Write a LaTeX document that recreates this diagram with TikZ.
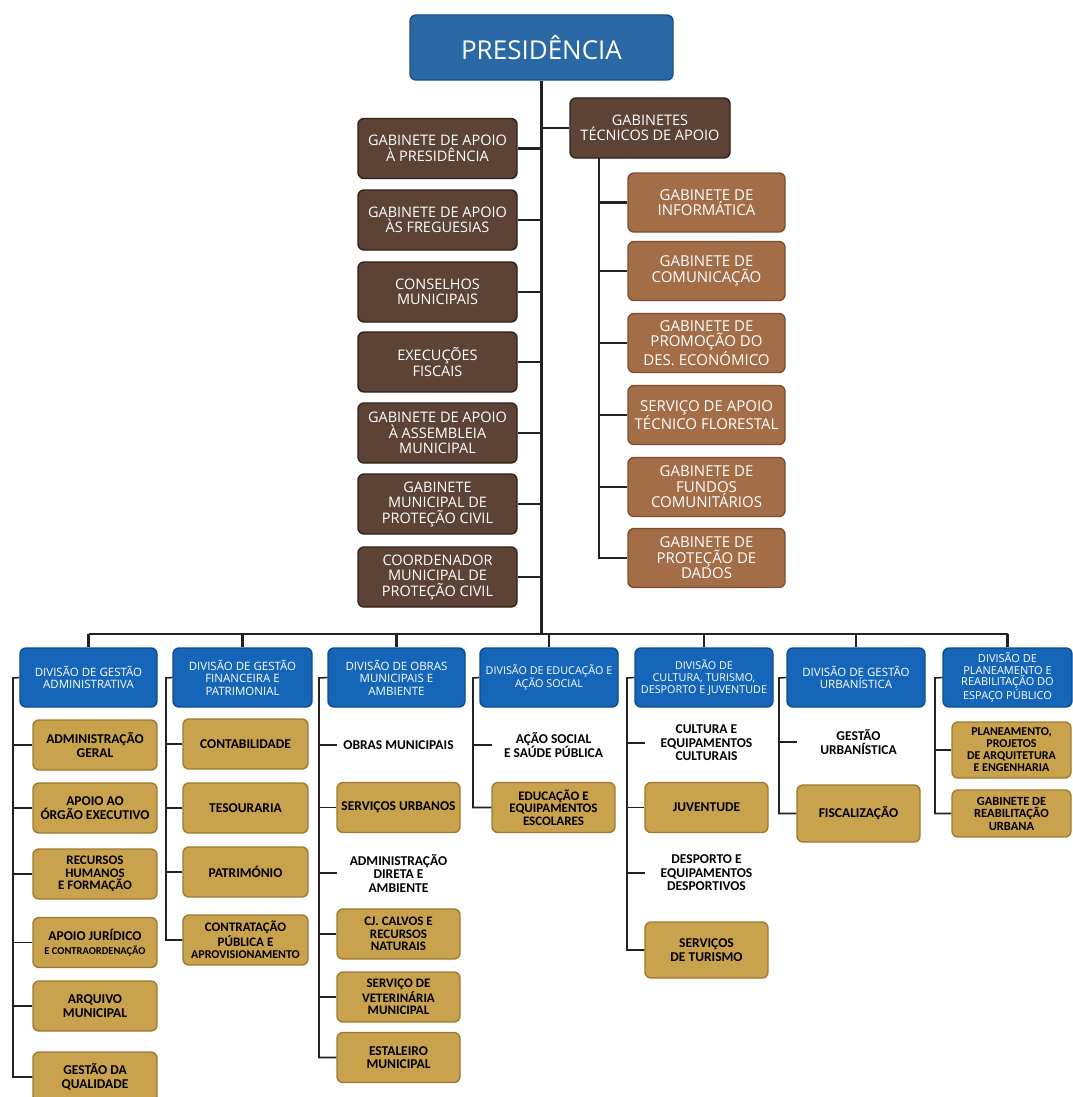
\documentclass[tikz,border=0pt]{standalone}
\usepackage{fontspec}
\setmainfont{Carlito}
\newfontfamily\wide{Open Sans}
\usetikzlibrary{calc}
\definecolor{presblue}{HTML}{2A68A6}
\definecolor{presedge}{HTML}{1B4E80}
\definecolor{divblue}{HTML}{1566B8}
\definecolor{divedge}{HTML}{0E4C8C}
\definecolor{darkbrown}{HTML}{5C4336}
\definecolor{darkbrownedge}{HTML}{2E211A}
\definecolor{midbrown}{HTML}{A26D47}
\definecolor{midbrownedge}{HTML}{7A4F31}
\definecolor{gold}{HTML}{C9A24E}
\definecolor{goldedge}{HTML}{9C7A30}
\definecolor{linecol}{HTML}{222222}
\tikzset{
  basebox/.style={rounded corners=6pt, align=center, inner sep=1pt, line width=1.4pt},
  presbox/.style={basebox, fill=presblue, draw=presedge, text=white, font=\wide\fontsize{26}{28}\selectfont},
  darkbox/.style={basebox, fill=darkbrown, draw=darkbrownedge, text=white, font=\wide\fontsize{14.5}{15.5}\selectfont, minimum width=159pt, minimum height=60pt},
  midbox/.style={basebox, fill=midbrown, draw=midbrownedge, text=white, font=\wide\fontsize{15}{15.5}\selectfont, minimum width=157pt, minimum height=59pt},
  divbox/.style={basebox, fill=divblue, draw=divedge, text=white, font=\wide\fontsize{11.5}{12.5}\selectfont, minimum height=59pt},
  goldbox/.style={basebox, fill=gold, draw=goldedge, text=black, font=\bfseries\fontsize{13.5}{13.5}\selectfont, minimum height=50pt},
  plainitem/.style={align=center, inner sep=1pt, text=black, font=\bfseries\fontsize{13.5}{13.5}\selectfont, minimum height=40pt},
  mainline/.style={draw=linecol, line width=2.2pt},
  subline/.style={draw=linecol, line width=1.6pt},
}
\begin{document}
\begin{tikzpicture}[x=1pt,y=-1pt]
\path[use as bounding box, fill=white] (0,0) rectangle (1072,1097);

% top
\node[presbox, minimum width=263pt, minimum height=65pt] (pres) at (541.5,47.5) {PRESIDÊNCIA};

% left column
\node[darkbox] (g1) at (437.5,148.5) {GABINETE DE APOIO\\À PRESIDÊNCIA};
\node[darkbox] (g2) at (437.5,220) {GABINETE DE APOIO\\ÀS FREGUESIAS};
\node[darkbox] (g3) at (437.5,292) {CONSELHOS\\MUNICIPAIS};
\node[darkbox] (g4) at (437.5,362) {EXECUÇÕES\\FISCAIS};
\node[darkbox] (g5) at (437.5,433) {GABINETE DE APOIO\\À ASSEMBLEIA\\MUNICIPAL};
\node[darkbox] (g6) at (437.5,504) {GABINETE\\MUNICIPAL DE\\PROTEÇÃO CIVIL};
\node[darkbox] (g7) at (437.5,577) {COORDENADOR\\MUNICIPAL DE\\PROTEÇÃO CIVIL};

% right column
\node[darkbox, minimum width=160pt] (gta) at (650,128) {GABINETES\\TÉCNICOS DE APOIO};
\node[midbox] (r1) at (706.5,202.5) {GABINETE DE\\INFORMÁTICA};
\node[midbox] (r2) at (706.5,271) {GABINETE DE\\COMUNICAÇÃO};
\node[midbox] (r3) at (706.5,343) {GABINETE DE\\PROMOÇÃO DO\\DES. ECONÓMICO};
\node[midbox] (r4) at (706.5,415) {SERVIÇO DE APOIO\\TÉCNICO FLORESTAL};
\node[midbox] (r5) at (706.5,487) {GABINETE DE\\FUNDOS\\COMUNITÁRIOS};
\node[midbox] (r6) at (706.5,558) {GABINETE DE\\PROTEÇÃO DE\\DADOS};

\coordinate (tl) at (599,158);
\coordinate (bus) at (543,634);

% main line and top connectors
\draw[mainline] (pres.south) -- (pres.south |- bus);
\foreach \n in {g1,g2,g3,g4,g5,g6,g7} {\draw[mainline] (\n.east) -- (\n.east -| pres.south);}
\draw[mainline] (gta.west) -- (gta.west -| pres.south);
\draw[mainline] (tl) |- (r6.west);
\foreach \n in {r1,r2,r3,r4,r5} {\draw[mainline] (\n.west) -- (\n.west -| tl);}

% division headers
\node[divbox, minimum width=137pt] (h1) at (88.5,677.5) {DIVISÃO DE GESTÃO\\ADMINISTRATIVA};
\node[divbox, minimum width=139pt] (h2) at (242.5,677.5) {DIVISÃO DE GESTÃO\\FINANCEIRA E\\PATRIMONIAL};
\node[divbox, minimum width=137pt] (h3) at (396.5,677.5) {DIVISÃO DE OBRAS\\MUNICIPAIS E\\AMBIENTE};
\node[divbox, minimum width=138pt, font=\wide\fontsize{10.8}{12}\selectfont] (h4) at (549,677.5) {DIVISÃO DE EDUCAÇÃO E\\AÇÃO SOCIAL};
\node[divbox, minimum width=138pt, font=\wide\fontsize{10.8}{12}\selectfont] (h5) at (704,677.5) {DIVISÃO DE\\CULTURA, TURISMO,\\DESPORTO E JUVENTUDE};
\node[divbox, minimum width=138pt] (h6) at (856,677.5) {DIVISÃO DE GESTÃO\\URBANÍSTICA};
\node[divbox, minimum width=129pt, font=\wide\fontsize{11}{11.8}\selectfont] (h7) at (1007.5,677.5) {DIVISÃO DE\\PLANEAMENTO E\\REABILITAÇÃO DO\\ESPAÇO PÚBLICO};

% bus
\draw[mainline] (h1.north |- bus) -- (h7.north |- bus);
\foreach \n in {h1,h2,h3,h4,h5,h6,h7} {\draw[mainline] (\n.north |- bus) -- (\n.north);}

% column 1
\node[goldbox, minimum width=124pt] (a1) at (95,745) {ADMINISTRAÇÃO\\GERAL};
\node[goldbox, minimum width=124pt] (a2) at (95,808) {APOIO AO\\ÓRGÃO EXECUTIVO};
\node[goldbox, minimum width=124pt, font=\bfseries\fontsize{13}{12.5}\selectfont] (a3) at (95,874) {RECURSOS\\HUMANOS\\E FORMAÇÃO};
\node[goldbox, minimum width=124pt] (a4) at (95,942.5) {APOIO JURÍDICO\\{\fontsize{10.5}{12}\selectfont E CONTRAORDENAÇÃO}};
\node[goldbox, minimum width=124pt] (a5) at (95,1006) {ARQUIVO\\MUNICIPAL};
\node[goldbox, minimum width=124pt] (a6) at (95,1077) {GESTÃO DA\\QUALIDADE};
\coordinate (c1) at (13,678);
\draw[subline] (h1.west) -- (c1) |- (a6.west);
\foreach \n in {a1,a2,a3,a4,a5} {\draw[subline] (\n.west) -- (\n.west -| c1);}

% column 2
\node[goldbox, minimum width=125pt] (b1) at (245.5,744) {CONTABILIDADE};
\node[goldbox, minimum width=125pt] (b2) at (245.5,808) {TESOURARIA};
\node[goldbox, minimum width=125pt] (b3) at (245.5,872) {PATRIMÓNIO};
\node[goldbox, minimum width=125pt, font=\bfseries\fontsize{13}{12.5}\selectfont] (b4) at (245.5,940) {CONTRATAÇÃO\\PÚBLICA E\\{\fontsize{12}{12.5}\selectfont APROVISIONAMENTO}};
\coordinate (c2) at (166,678);
\draw[subline] (h2.west) -- (c2) |- (b4.west);
\foreach \n in {b1,b2,b3} {\draw[subline] (\n.west) -- (\n.west -| c2);}

% column 3
\node[plainitem, minimum width=123pt] (d31) at (398.5,745) {OBRAS MUNICIPAIS};
\node[goldbox, minimum width=123pt] (d32) at (398.5,807.5) {SERVIÇOS URBANOS};
\node[plainitem, minimum width=123pt] (d33) at (398.5,873) {ADMINISTRAÇÃO\\DIRETA E\\AMBIENTE};
\node[goldbox, minimum width=123pt, font=\bfseries\fontsize{13}{12.5}\selectfont] (d34) at (398.5,934) {CJ. CALVOS E\\RECURSOS\\NATURAIS};
\node[goldbox, minimum width=123pt, font=\bfseries\fontsize{13}{12.5}\selectfont] (d35) at (398.5,997) {SERVIÇO DE\\VETERINÁRIA\\MUNICIPAL};
\node[goldbox, minimum width=123pt] (d36) at (398.5,1057.5) {ESTALEIRO\\MUNICIPAL};
\coordinate (c3) at (319,678);
\draw[subline] (h3.west) -- (c3) |- (d36.west);
\foreach \n in {d31,d32,d33,d34,d35} {\draw[subline] (\n.west) -- (\n.west -| c3);}

% column 4
\node[plainitem, minimum width=123pt] (d41) at (553.5,745) {AÇÃO SOCIAL\\E SAÚDE PÚBLICA};
\node[goldbox, minimum width=123pt, font=\bfseries\fontsize{13}{12.5}\selectfont] (d42) at (553.5,807.5) {EDUCAÇÃO E\\EQUIPAMENTOS\\ESCOLARES};
\coordinate (c4) at (473,678);
\draw[subline] (h4.west) -- (c4) |- (d42.west);
\draw[subline] (d41.west) -- (d41.west -| c4);

% column 5
\node[plainitem, minimum width=123pt] (d51) at (706.5,743) {CULTURA E\\EQUIPAMENTOS\\CULTURAIS};
\node[goldbox, minimum width=123pt] (d52) at (706.5,807.5) {JUVENTUDE};
\node[plainitem, minimum width=123pt] (d53) at (706.5,873) {DESPORTO E\\EQUIPAMENTOS\\DESPORTIVOS};
\node[goldbox, minimum width=123pt, minimum height=56pt] (d54) at (706.5,950) {SERVIÇOS\\DE TURISMO};
\coordinate (c5) at (627,678);
\draw[subline] (h5.west) -- (c5) |- (d54.west);
\foreach \n in {d51,d52,d53} {\draw[subline] (\n.west) -- (\n.west -| c5);}

% column 6
\node[plainitem, minimum width=123pt] (d61) at (858.5,742) {GESTÃO\\URBANÍSTICA};
\node[goldbox, minimum width=123pt, minimum height=57pt] (d62) at (858.5,813.5) {FISCALIZAÇÃO};
\coordinate (c6) at (779,678);
\draw[subline] (h6.west) -- (c6) |- (d62.west);
\draw[subline] (d61.west) -- (d61.west -| c6);

% column 7
\node[goldbox, minimum width=119pt, minimum height=56pt, font=\bfseries\fontsize{12}{12}\selectfont] (d71) at (1011.5,750) {PLANEAMENTO,\\PROJETOS\\DE ARQUITETURA\\E ENGENHARIA};
\node[goldbox, minimum width=119pt, minimum height=47pt, font=\bfseries\fontsize{12.5}{12.5}\selectfont] (d72) at (1011.5,813.5) {GABINETE DE\\REABILITAÇÃO\\URBANA};
\coordinate (c7) at (935,678);
\draw[subline] (h7.west) -- (c7) |- (d72.west);
\draw[subline] (d71.west) -- (d71.west -| c7);
\end{tikzpicture}
\end{document}
